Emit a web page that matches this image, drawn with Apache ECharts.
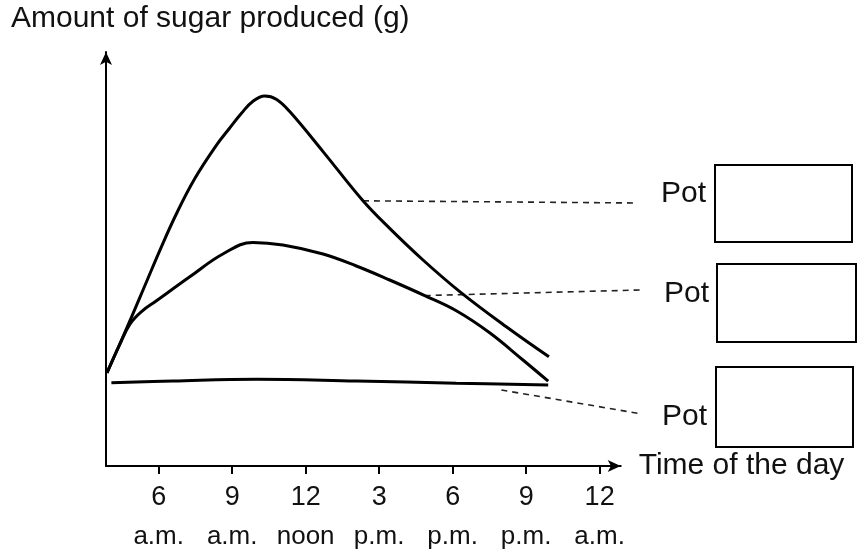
<!DOCTYPE html>
<html>
<head>
<meta charset="utf-8">
<script src="https://cdn.jsdelivr.net/npm/echarts@6/dist/echarts.min.js"></script>
<style>
  html, body { margin: 0; padding: 0; background: #fff; }
  #chart { width: 857px; height: 551px; }
</style>
</head>
<body>
<div id="chart"></div>
<script>
// Time axis: hours since midnight, labelled as clock times
const tickHours = [6, 9, 12, 15, 18, 21, 24];
const tickNumbers = ['6', '9', '12', '3', '6', '9', '12'];
const tickPeriods = ['a.m.', 'a.m.', 'noon', 'p.m.', 'p.m.', 'p.m.', 'a.m.'];

// Upper curve (highest sugar production)
const upperHours  = [3.89, 4.82, 5.50, 6.04, 6.72, 7.47, 8.36, 8.90, 9.38, 9.85, 10.33, 10.80, 11.35, 12.71, 14.34, 15.43, 16.79, 18.29, 20.19, 21.93];
const upperValues = [23.3, 36.2, 46.0, 53.8, 63.0, 71.8, 80.2, 84.5, 88.2, 91.2, 92.5, 91.7, 88.6, 78.6, 66.3, 59.4, 51.5, 43.6, 34.8, 27.3];

// Middle curve
const middleHours  = [3.89, 4.40, 4.82, 5.30, 5.91, 7.27, 8.62, 9.85, 11.07, 12.71, 14.07, 15.43, 16.86, 18.15, 19.51, 20.87, 21.90];
const middleValues = [23.3, 30.2, 35.4, 38.6, 41.3, 47.3, 53.0, 55.9, 55.25, 53.0, 50.0, 46.5, 42.6, 38.8, 33.3, 26.5, 21.2];

// Lower, almost flat curve
const lowerHours  = [4.07, 6.58, 9.99, 14.07, 18.15, 21.90];
const lowerValues = [20.8, 21.25, 21.7, 21.25, 20.7, 20.25];

// Where each "Pot" leader line leaves its curve
const leaderHours  = [14.34, 16.86, 19.99];
const leaderValues = [66.3, 42.6, 19.0];
const potLabels = ['Pot', 'Pot', 'Pot'];

const FONT = "'Liberation Sans', Arial, Helvetica, sans-serif";
const INK = '#000';
const TEXT = '#111';

const chart = echarts.init(document.getElementById('chart'), null, { renderer: 'canvas' });

function pairs(xs, ys) {
  return xs.map((x, i) => [x, ys[i]]);
}

function curve(name, xs, ys) {
  return {
    name: name,
    type: 'line',
    data: pairs(xs, ys),
    smooth: 0.4,
    symbol: 'none',
    lineStyle: { color: INK, width: 3 },
    silent: true,
    animation: false
  };
}

chart.setOption({
  animation: false,
  backgroundColor: '#fff',
  title: {
    text: 'Amount of sugar produced (g)',
    left: 11,
    top: 4,
    padding: 0,
    textStyle: { fontFamily: FONT, fontSize: 30, fontWeight: 'normal', color: TEXT }
  },
  grid: { left: 106, top: 52, width: 514.7, height: 414 },
  xAxis: {
    type: 'value',
    min: 3.85,
    max: 24.86,
    name: 'Time of the day',
    nameLocation: 'end',
    nameGap: 18,
    nameTextStyle: { fontFamily: FONT, fontSize: 30, color: TEXT },
    axisLine: {
      show: true,
      symbol: ['none', 'arrow'],
      symbolSize: [9, 13],
      lineStyle: { color: INK, width: 2 }
    },
    axisTick: {
      show: true,
      customValues: tickHours,
      length: 8,
      lineStyle: { color: INK, width: 2 }
    },
    axisLabel: {
      customValues: tickHours,
      margin: 12,
      formatter: function (v) {
        const i = tickHours.indexOf(Math.round(v));
        if (i < 0) return '';
        return '{n|' + tickNumbers[i] + '}\n{p|' + tickPeriods[i] + '}';
      },
      rich: {
        n: { fontFamily: FONT, fontSize: 27, lineHeight: 39, color: TEXT },
        p: { fontFamily: FONT, fontSize: 26, lineHeight: 39, color: TEXT }
      }
    },
    splitLine: { show: false }
  },
  yAxis: {
    type: 'value',
    min: 0,
    max: 103.5,
    axisLine: {
      show: true,
      symbol: ['none', 'arrow'],
      symbolSize: [9, 13],
      lineStyle: { color: INK, width: 2 }
    },
    axisTick: { show: false },
    axisLabel: { show: false },
    splitLine: { show: false }
  },
  series: [
    curve('upper', upperHours, upperValues),
    curve('middle', middleHours, middleValues),
    curve('lower', lowerHours, lowerValues)
  ]
});

// Leader lines, "Pot" labels and the empty answer boxes on the right
const labelAnchors = [[637, 203], [640, 290], [642, 414]];
const labelPositions = [[661, 194], [664, 294], [662, 417]];
const boxes = [[715, 165, 137, 77], [717, 264, 139, 78], [716, 367, 137, 80]];

const annotations = [];
leaderHours.forEach((h, i) => {
  const start = chart.convertToPixel({ seriesIndex: i }, [h, leaderValues[i]]);
  annotations.push({
    type: 'line',
    silent: true,
    shape: { x1: start[0], y1: start[1], x2: labelAnchors[i][0], y2: labelAnchors[i][1] },
    style: { stroke: '#222', lineWidth: 1.6, lineDash: [6, 5] }
  });
  annotations.push({
    type: 'text',
    silent: true,
    x: labelPositions[i][0],
    y: labelPositions[i][1],
    style: {
      text: potLabels[i],
      font: '30px ' + FONT,
      fill: TEXT,
      align: 'left',
      verticalAlign: 'middle'
    }
  });
  const b = boxes[i];
  annotations.push({
    type: 'rect',
    silent: true,
    shape: { x: b[0], y: b[1], width: b[2], height: b[3] },
    style: { fill: 'none', stroke: INK, lineWidth: 2 }
  });
});

chart.setOption({ graphic: annotations });
</script>
</body>
</html>
